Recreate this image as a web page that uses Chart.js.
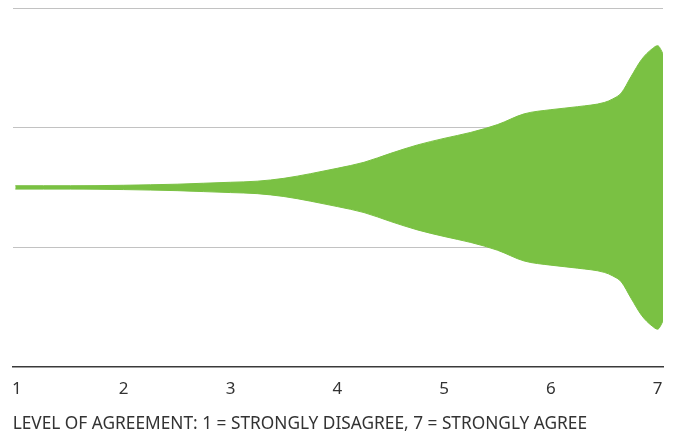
<!DOCTYPE html>
<html>
<head>
<meta charset="utf-8">
<script src="https://cdn.jsdelivr.net/npm/chart.js@4"></script>
<style>
    html, body { margin: 0; padding: 0; background: #fff; }
    #wrap { width: 677px; height: 434px; }
</style>
</head>
<body>
<div id="wrap"><canvas id="chart1"></canvas></div>
<script>
// agreement level (x) and half-width of the spread around the centre line
const tickLabels = [1, 2, 3, 4, 5, 6, 7];
const agreement = [0.985, 1.25, 1.5, 1.75, 2, 2.25, 2.5, 2.75, 3, 3.25, 3.5, 3.75, 4, 4.25, 4.5, 4.75,
    5, 5.25, 5.5, 5.75, 6, 6.25, 6.5, 6.58, 6.66, 6.75, 6.85, 6.95, 7, 7.05];
const spread = [0.014, 0.014, 0.014, 0.015, 0.018, 0.022, 0.027, 0.035, 0.043, 0.052, 0.076, 0.115, 0.16, 0.21, 0.285, 0.355,
    0.41, 0.46, 0.525, 0.615, 0.65, 0.675, 0.71, 0.74, 0.79, 0.925, 1.07, 1.16, 1.185, 1.12];
const centre = 1.5;

const green = '#7ac143';

window.addEventListener('DOMContentLoaded', () => {
    const upper = agreement.map((x, i) => ({ x: x, y: centre + spread[i] }));
    const lower = agreement.map((x, i) => ({ x: x, y: centre - spread[i] }));

    const ctx1 = document.getElementById('chart1').getContext('2d');
    new Chart(ctx1, {
        type: 'line',
        data: {
            datasets: [{
                data: upper,
                borderColor: green,
                borderWidth: 1,
                pointRadius: 0,
                cubicInterpolationMode: 'monotone',
                fill: false
            }, {
                data: lower,
                borderColor: green,
                backgroundColor: green,
                borderWidth: 1,
                pointRadius: 0,
                cubicInterpolationMode: 'monotone',
                fill: '-1'
            }]
        },
        options: {
            responsive: true,
            maintainAspectRatio: false,
            animation: false,
            layout: { padding: { left: 7, right: 14, top: 8, bottom: 0 } },
            plugins: {
                legend: { display: false },
                tooltip: { enabled: false }
            },
            scales: {
                x: {
                    type: 'linear',
                    min: 0.96,
                    max: 7.05,
                    afterBuildTicks: axis => {
                        axis.ticks = tickLabels.map(v => ({ value: v }));
                    },
                    grid: { display: false, drawTicks: false },
                    border: { display: true, color: '#3a3a3a', width: 1.5 },
                    ticks: {
                        padding: 12,
                        color: '#333',
                        maxRotation: 0,
                        font: { family: 'Noto Sans', size: 17 }
                    },
                    title: {
                        display: true,
                        text: 'LEVEL OF AGREEMENT: 1 = STRONGLY DISAGREE, 7 = STRONGLY AGREE',
                        align: 'start',
                        color: '#333',
                        padding: { top: 2, bottom: 0 },
                        font: { family: 'Noto Sans', size: 17.3 }
                    }
                },
                y: {
                    min: 0,
                    max: 3,
                    ticks: { display: false, stepSize: 1 },
                    grid: {
                        drawTicks: false,
                        color: c => c.tick.value === 0 ? 'rgba(0,0,0,0)' : '#c2c2c2'
                    },
                    border: { display: false }
                }
            }
        }
    });
});
</script>
</body>
</html>
